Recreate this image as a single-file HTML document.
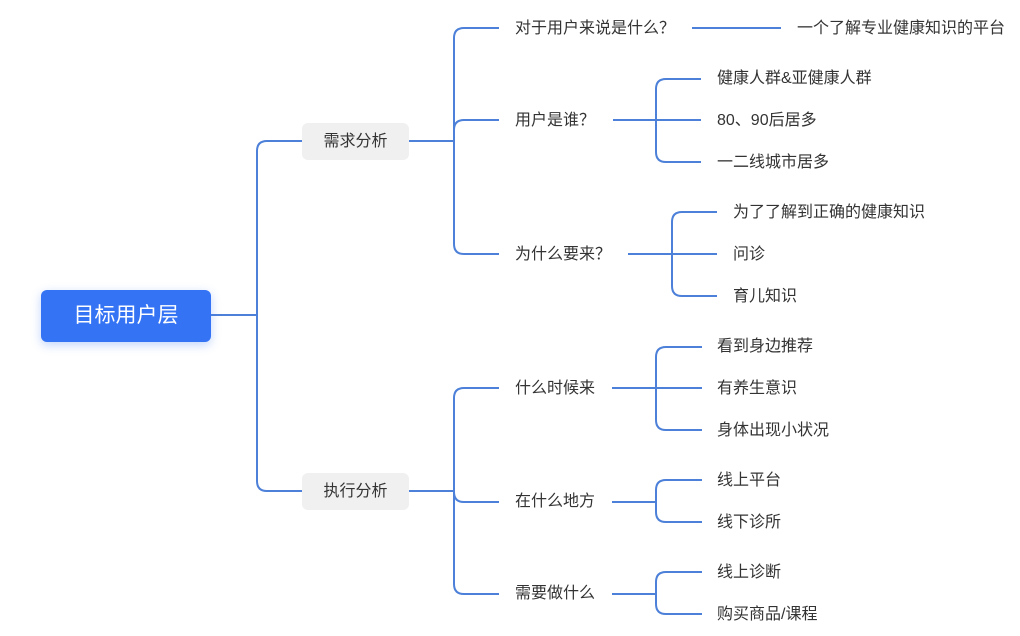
<!DOCTYPE html>
<html><head><meta charset="utf-8"><style>
html,body{margin:0;padding:0;background:#fff;}
body{width:1020px;height:636px;position:relative;overflow:hidden;font-family:"Liberation Sans","Noto Sans CJK SC",sans-serif;}
.t{position:absolute;font-size:16px;color:#333;line-height:20px;white-space:nowrap;transform:translateY(-9px);}
.root{position:absolute;left:41px;top:290px;width:170px;height:52px;background:#3373f4;border-radius:6px;box-shadow:0 3px 10px rgba(51,115,244,0.3);color:#fff;font-size:21px;line-height:52px;text-align:center;}
.sub{position:absolute;left:302px;width:107px;height:37px;background:#f0f0f0;border-radius:6px;color:#333;font-size:16px;line-height:37px;text-align:center;}
</style></head><body>
<svg width="1020" height="636" style="position:absolute;left:0;top:0" fill="none" stroke="#4d80d8" stroke-width="2">
<path d="M211 315 H257"/>
<path d="M302 141 H267 Q257 141 257 151 V481 Q257 491 267 491 H302"/>
<path d="M409 141 H454"/>
<path d="M499 28 H464 Q454 28 454 38 V244 Q454 254 464 254 H499"/>
<path d="M454 130 Q454 120 464 120 H499"/>
<path d="M692 28 H781"/>
<path d="M613 120 H701"/>
<path d="M701 79 H666 Q656 79 656 89 V152 Q656 162 666 162 H701"/>
<path d="M628 254 H717"/>
<path d="M717 212 H682 Q672 212 672 222 V286 Q672 296 682 296 H717"/>
<path d="M409 491 H454"/>
<path d="M499 388 H464 Q454 388 454 398 V584 Q454 594 464 594 H499"/>
<path d="M454 492 Q454 502 464 502 H499"/>
<path d="M612 388 H702"/>
<path d="M702 347 H666 Q656 347 656 357 V420 Q656 430 666 430 H702"/>
<path d="M612 502 H656"/>
<path d="M702 480 H666 Q656 480 656 490 V512 Q656 522 666 522 H702"/>
<path d="M612 594 H656"/>
<path d="M702 572 H666 Q656 572 656 582 V604 Q656 614 666 614 H702"/>
</svg>
<div class="root">目标用户层</div>
<div class="sub" style="top:123px">需求分析</div>
<div class="sub" style="top:473px">执行分析</div>
<div class="t" style="left:515px;top:28px">对于用户来说是什么？</div>
<div class="t" style="left:797px;top:28px">一个了解专业健康知识的平台</div>
<div class="t" style="left:515px;top:120px">用户是谁？</div>
<div class="t" style="left:717px;top:78px">健康人群&amp;亚健康人群</div>
<div class="t" style="left:717px;top:120px">80、90后居多</div>
<div class="t" style="left:717px;top:162px">一二线城市居多</div>
<div class="t" style="left:515px;top:254px">为什么要来？</div>
<div class="t" style="left:733px;top:212px">为了了解到正确的健康知识</div>
<div class="t" style="left:733px;top:254px">问诊</div>
<div class="t" style="left:733px;top:296px">育儿知识</div>
<div class="t" style="left:515px;top:388px">什么时候来</div>
<div class="t" style="left:717px;top:346px">看到身边推荐</div>
<div class="t" style="left:717px;top:388px">有养生意识</div>
<div class="t" style="left:717px;top:430px">身体出现小状况</div>
<div class="t" style="left:515px;top:501px">在什么地方</div>
<div class="t" style="left:717px;top:480px">线上平台</div>
<div class="t" style="left:717px;top:522px">线下诊所</div>
<div class="t" style="left:515px;top:593px">需要做什么</div>
<div class="t" style="left:717px;top:572px">线上诊断</div>
<div class="t" style="left:717px;top:614px">购买商品/课程</div>
</body></html>
